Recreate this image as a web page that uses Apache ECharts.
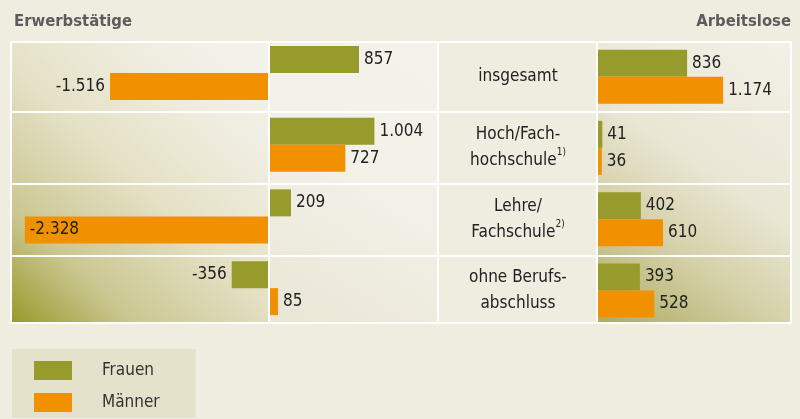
<!DOCTYPE html>
<html>
<head>
<meta charset="utf-8">
<script src="https://cdn.jsdelivr.net/npm/echarts@6/dist/echarts.min.js"></script>
<style>
    html, body { margin: 0; padding: 0; background: #efede0; }
    #chart { width: 800px; height: 419px; }
</style>
</head>
<body>
<div id="chart"></div>
<script>
// Veränderung gegenüber Vorjahr, in 1000
const categories = ['insgesamt', 'Hoch/Fach-\nhochschule', 'Lehre/\nFachschule', 'ohne Berufs-\nabschluss'];
const footnotes = ['', '1)', '2)', ''];
const erwerbFrauen = [857, 1004, 209, -356];
const erwerbMaenner = [-1516, 727, -2328, 85];
const arbeitsFrauen = [836, 41, 402, 393];
const arbeitsMaenner = [1174, 36, 610, 528];

const OLIVE = '#979b2b';
const ORANGE = '#f29100';
const FONT = '"DejaVu Sans Condensed", "Liberation Sans Narrow", sans-serif';

function fmt(v) {
    return (v < 0 ? '-' : '') + String(Math.abs(v)).replace(/\B(?=(\d{3})+(?!\d))/g, '.');
}

// negative bars get the label on the left, the very long one inside
function leftItems(arr) {
    return arr.map(function (v) {
        let pos = v < 0 ? 'left' : 'right';
        if (v < -2000) pos = 'insideLeft';
        return {value: v, label: {position: pos}};
    });
}

const valueLabel = {
    show: true,
    distance: 5,
    fontFamily: FONT,
    fontSize: 17,
    color: '#222',
    formatter: function (p) { return fmt(p.value); }
};

function whiteLine(x1, y1, x2, y2) {
    return {type: 'line', z: 10, shape: {x1: x1, y1: y1, x2: x2, y2: y2},
        style: {stroke: '#ffffff', lineWidth: 2}};
}

const chartDom = document.getElementById('chart');
const myChart = echarts.init(chartDom);
let option;

option = {
    backgroundColor: '#efede0',
    animation: false,
    textStyle: {fontFamily: FONT},
    title: [
        {text: 'Erwerbstätige', left: 14, top: 13, padding: 0,
            textStyle: {fontFamily: FONT, fontWeight: 'bold', fontSize: 16.5, color: '#5c5c5c'}},
        {text: 'Arbeitslose', right: 9, top: 13, padding: 0,
            textStyle: {fontFamily: FONT, fontWeight: 'bold', fontSize: 16.5, color: '#5c5c5c'}}
    ],
    legend: {
        data: ['Frauen', 'Männer'],
        orient: 'vertical',
        left: 12,
        top: 349,
        padding: [12, 36, 6, 22],
        backgroundColor: '#e4e2cb',
        itemWidth: 38,
        itemHeight: 19,
        itemGap: 13,
        icon: 'rect',
        selectedMode: false,
        textStyle: {fontFamily: FONT, fontSize: 17, color: '#333', padding: [0, 0, 0, 25]}
    },
    graphic: [
        {type: 'rect', z: 0, shape: {x: 12, y: 42, width: 257, height: 281},
            style: {fill: new echarts.graphic.LinearGradient(0, 1, 1, 0, [
                {offset: 0, color: '#989a2c'},
                {offset: 0.22, color: '#cbc792'},
                {offset: 0.5, color: '#e5e1c6'},
                {offset: 0.8, color: '#f1efe4'},
                {offset: 1, color: '#f4f3eb'}
            ])}},
        {type: 'rect', z: 0, shape: {x: 269, y: 42, width: 169, height: 281},
            style: {fill: new echarts.graphic.LinearGradient(0, 1, 1, 0, [
                {offset: 0, color: '#e9e6d4'},
                {offset: 0.5, color: '#f2f0e7'},
                {offset: 1, color: '#f4f3eb'}
            ])}},
        {type: 'rect', z: 0, shape: {x: 438, y: 42, width: 160, height: 281},
            style: {fill: '#efece0'}},
        {type: 'rect', z: 0, shape: {x: 598, y: 42, width: 194, height: 281},
            style: {fill: new echarts.graphic.LinearGradient(0, 1, 1, 0, [
                {offset: 0, color: '#aeab60'},
                {offset: 0.3, color: '#d4d0a7'},
                {offset: 0.55, color: '#e9e6d4'},
                {offset: 1, color: '#f3f1e8'}
            ])}},
        whiteLine(11, 42, 792, 42),
        whiteLine(11, 112, 792, 112),
        whiteLine(11, 184, 792, 184),
        whiteLine(11, 256, 792, 256),
        whiteLine(11, 323, 792, 323),
        whiteLine(11, 42, 11, 323),
        whiteLine(269, 42, 269, 323),
        whiteLine(438, 42, 438, 323),
        whiteLine(597, 42, 597, 323),
        whiteLine(791, 42, 791, 323)
    ],
    grid: [
        {left: 12, right: 362, top: 37, height: 287},
        {left: 598, right: 8, top: 41, height: 285}
    ],
    xAxis: [
        {gridIndex: 0, type: 'value', min: -2450, max: 1610, show: false},
        {gridIndex: 1, type: 'value', min: 0, max: 1820, show: false}
    ],
    yAxis: [
        {gridIndex: 0, type: 'category', inverse: true, data: categories, show: false},
        {
            gridIndex: 1, type: 'category', inverse: true, data: categories,
            axisLine: {show: false},
            axisTick: {show: false},
            axisLabel: {
                margin: 80,
                align: 'center',
                fontFamily: FONT,
                fontSize: 17,
                lineHeight: 26,
                color: '#222',
                formatter: function (val, idx) {
                    return footnotes[idx] ? val + '{sup|' + footnotes[idx] + '}' : val;
                },
                rich: {
                    sup: {fontFamily: FONT, fontSize: 10, color: '#222', verticalAlign: 'top', lineHeight: 22}
                }
            }
        }
    ],
    series: [
        {name: 'Frauen', type: 'bar', xAxisIndex: 0, yAxisIndex: 0, barWidth: 27, barGap: '0%',
            itemStyle: {color: OLIVE}, label: valueLabel, data: leftItems(erwerbFrauen)},
        {name: 'Männer', type: 'bar', xAxisIndex: 0, yAxisIndex: 0, barWidth: 27, barGap: '0%',
            itemStyle: {color: ORANGE}, label: valueLabel, data: leftItems(erwerbMaenner)},
        {name: 'Frauen', type: 'bar', xAxisIndex: 1, yAxisIndex: 1, barWidth: 27, barGap: '0%',
            itemStyle: {color: OLIVE}, label: Object.assign({position: 'right'}, valueLabel), data: arbeitsFrauen},
        {name: 'Männer', type: 'bar', xAxisIndex: 1, yAxisIndex: 1, barWidth: 27, barGap: '0%',
            itemStyle: {color: ORANGE}, label: Object.assign({position: 'right'}, valueLabel), data: arbeitsMaenner}
    ]
};

option && myChart.setOption(option);
</script>
</body>
</html>
